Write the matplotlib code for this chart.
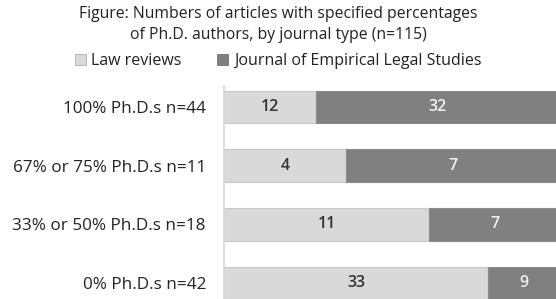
import numpy as np
import matplotlib.pyplot as plt
from matplotlib.patches import Patch

plt.rcParams['font.family'] = ['Open Sans', 'DejaVu Sans']

cats = ['100% Ph.D.s n=44', '67% or 75% Ph.D.s n=11', '33% or 50% Ph.D.s n=18', '0% Ph.D.s n=42']
law = [12, 4, 11, 33]
jels = [32, 7, 7, 9]
series_names = ['Law reviews', 'Journal of Empirical Legal Studies']
title = 'Figure: Numbers of articles with specified percentages\nof Ph.D. authors, by journal type (n=115)'

light = '#d9d9d9'
dark = '#808080'

law = np.array(law, dtype=float)
jels = np.array(jels, dtype=float)
tot = law + jels
law_f = law / tot
jels_f = jels / tot
y = np.arange(len(cats))[::-1]

fig = plt.figure(figsize=(5.56, 2.99), dpi=100)
ax = fig.add_axes([224 / 556, 0, 336 / 556, 213 / 299])

ax.barh(y, law_f, height=0.56, color=light, edgecolor='#c8c8c8', linewidth=0.8)
ax.barh(y, jels_f, left=law_f, height=0.56, color=dark, edgecolor='#8c8c8c', linewidth=0.8)

for yi, a, b, fa, fb in zip(y, law, jels, law_f, jels_f):
    ax.text(fa / 2, yi, '%d' % a, ha='center', va='center', fontsize=11.5,
            color='#333333', fontweight='semibold')
    ax.text(fa + fb / 2, yi, '%d' % b, ha='center', va='center', fontsize=11.5,
            color='#f2f2f2', fontweight='semibold')

ax.set_xlim(0, 1)
ax.set_ylim(-0.273, 3.357)
ax.set_yticks(y)
ax.set_yticklabels(cats, fontsize=12.3, color='#222222')
ax.set_xticks([])
ax.tick_params(axis='y', length=0, pad=13)
for s in ['top', 'right', 'bottom']:
    ax.spines[s].set_visible(False)
ax.spines['left'].set_color('#d9d9d9')
ax.spines['left'].set_linewidth(1.2)

fig.text(0.5, 0.98, title, ha='center', va='top', fontsize=11.3,
         color='#222222', linespacing=1.45)

handles = [Patch(facecolor=light, edgecolor='#b0b0b0', linewidth=0.6),
           Patch(facecolor=dark, edgecolor='#707070', linewidth=0.6)]
fig.legend(handles, series_names, loc='center', bbox_to_anchor=(0.5, 0.795),
           ncol=2, frameon=False, fontsize=11.5, handlelength=0.7, handleheight=0.7,
           handletextpad=0.35, columnspacing=2.2, labelcolor='#222222')

fig.savefig('out.png', dpi=100)
